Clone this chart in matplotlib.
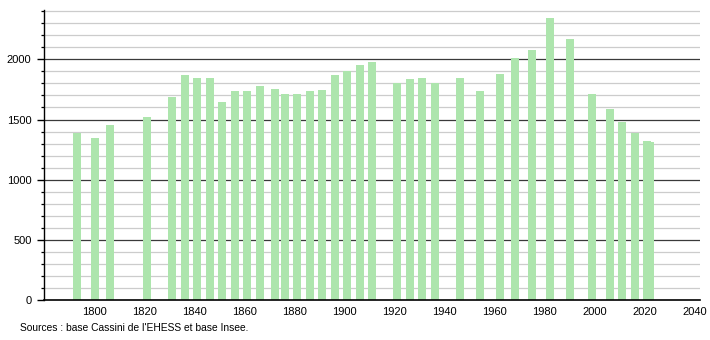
import matplotlib
matplotlib.use("Agg")
import matplotlib.pyplot as plt
import numpy as np

years = [1793, 1800, 1806, 1821, 1831, 1836, 1841, 1846, 1851, 1856, 1861, 1866,
         1872, 1876, 1881, 1886, 1891, 1896, 1901, 1906, 1911, 1921, 1926, 1931,
         1936, 1946, 1954, 1962, 1968, 1975, 1982, 1990, 1999, 2006, 2011, 2016,
         2021, 2022]
population = [1390, 1349, 1455, 1521, 1687, 1870, 1845, 1845, 1646, 1740, 1740, 1779,
              1754, 1712, 1712, 1740, 1746, 1870, 1904, 1953, 1978, 1801, 1837, 1845,
              1801, 1845, 1737, 1878, 2009, 2078, 2344, 2167, 1710, 1588, 1480, 1388,
              1322, 1313]
x_ticks = [1800, 1820, 1840, 1860, 1880, 1900, 1920, 1940, 1960, 1980, 2000, 2020, 2040]
y_major = [0, 500, 1000, 1500, 2000]
source_text = "Sources : base Cassini de l'EHESS et base Insee."

plt.rcParams['font.family'] = ['Liberation Sans', 'DejaVu Sans']

fig = plt.figure(figsize=(7.1, 3.4), dpi=100)
ax = fig.add_axes([44/710, 40/340, (700-44)/710, 290/340])

ax.set_xlim(1779.7, 2042)
ax.set_ylim(0, 2410)

# grid lines
for v in range(100, 2500, 100):
    if v % 500 == 0:
        ax.axhline(v, color='#3a3a3a', lw=0.9, zorder=1)
    else:
        ax.axhline(v, color='#cccccc', lw=0.9, zorder=1)

ax.bar(years, population, width=3.2, color='#ade5ad', zorder=2)

for s in ['top', 'right']:
    ax.spines[s].set_visible(False)
ax.spines['left'].set_color('black')
ax.spines['left'].set_linewidth(1.0)
ax.spines['bottom'].set_color('black')
ax.spines['bottom'].set_linewidth(1.2)
ax.spines['bottom'].set_zorder(3)

ax.set_yticks(y_major)
ax.set_yticks([v for v in range(0, 2500, 100) if v % 500 != 0], minor=True)
ax.tick_params(axis='y', which='major', length=5, width=1, labelsize=8, pad=4, color='black')
ax.tick_params(axis='y', which='minor', length=2.5, width=0.9, color='black')

ax.set_xticks(x_ticks)
ax.set_xticklabels([str(t) for t in x_ticks])
ax.tick_params(axis='x', which='major', length=0, labelsize=8, pad=5)
ax.tick_params(axis='x', which='minor', length=0)

fig.text(20/710, 1 - 328/340, source_text, fontsize=7.4, va='center', ha='left')

fig.savefig("out.png", dpi=100)
